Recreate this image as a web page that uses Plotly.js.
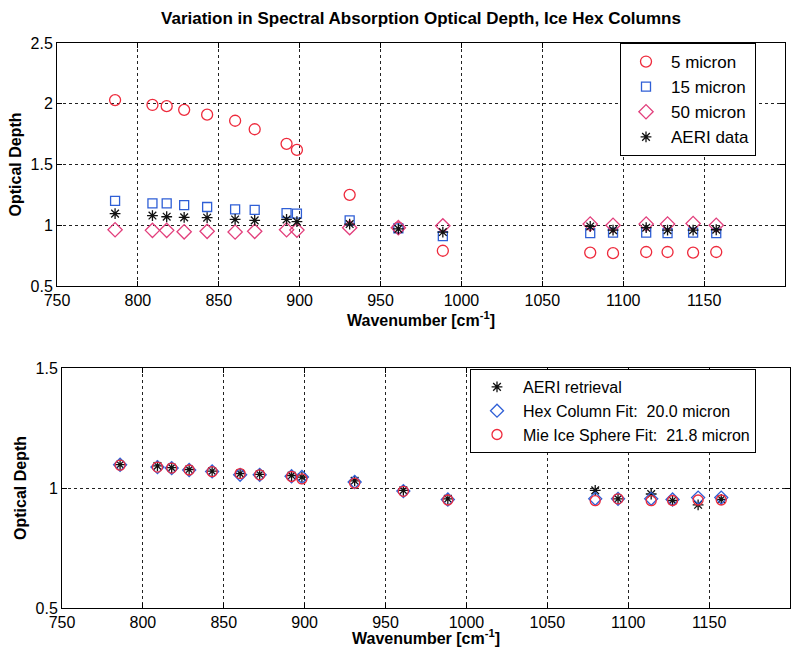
<!DOCTYPE html>
<html>
<head>
<meta charset="utf-8">
<script src="https://cdn.plot.ly/plotly-3.0.1.min.js"></script>
<style>
  html, body { margin: 0; padding: 0; background: #fff; }
  #chart { width: 796px; height: 647px; }
</style>
</head>
<body>
<div id="chart"></div>
<script>
// Microwindow centres (cm^-1)
const wavenumber = [785.9, 809.0, 817.8, 828.6, 842.8, 860.1, 872.2, 891.9, 898.3,
                    930.9, 961.0, 988.5, 1079.6, 1093.7, 1114.2, 1127.4, 1143.2, 1157.5];

// Upper panel: modelled hex-column optical depth for three sizes, plus AERI
const od5um  = [2.03, 1.99, 1.98, 1.95, 1.91, 1.86, 1.79, 1.67, 1.62,
                1.25, 0.98, 0.79, 0.775, 0.77, 0.78, 0.78, 0.775, 0.78];
const od15um = [1.20, 1.18, 1.18, 1.165, 1.15, 1.13, 1.127, 1.10, 1.096,
                1.04, 0.975, 0.91, 0.935, 0.94, 0.94, 0.935, 0.94, 0.935];
const od50um = [0.963, 0.958, 0.958, 0.946, 0.95, 0.944, 0.95, 0.963, 0.96,
                0.98, 0.98, 0.995, 1.01, 1.0, 1.01, 1.01, 1.014, 1.0];
const aeriData = [1.096, 1.08, 1.07, 1.065, 1.062, 1.048, 1.04, 1.048, 1.03,
                  1.01, 0.97, 0.944, 0.99, 0.96, 0.98, 0.96, 0.96, 0.963];

// Lower panel: AERI retrieval and best fits
const aeriRetrieval = [1.097, 1.092, 1.085, 1.077, 1.07, 1.06, 1.057, 1.052, 1.045,
                       1.03, 0.99, 0.955, 0.99, 0.955, 0.975, 0.948, 0.93, 0.953];
const hexColumnFit  = [1.097, 1.087, 1.083, 1.075, 1.069, 1.055, 1.055, 1.049, 1.046,
                       1.025, 0.987, 0.952, 0.955, 0.955, 0.955, 0.952, 0.96, 0.96];
const mieSphereFit  = [1.095, 1.087, 1.083, 1.075, 1.068, 1.06, 1.055, 1.048, 1.038,
                       1.02, 0.986, 0.95, 0.947, 0.955, 0.947, 0.948, 0.95, 0.95];

const xTicks = [750, 800, 850, 900, 950, 1000, 1050, 1100, 1150, 1200];
const yTicksTop = [0.5, 1, 1.5, 2, 2.5];
const yTicksBottom = [0.5, 1, 1.5];

const RED = '#ee2a3c', BLUE = '#2f5fd6', PINK = '#e23f7c', BLK = '#111';
const FAMILY = 'Liberation Sans, Arial, sans-serif';

function pts(y, xa, ya, name, symbol, color, size, legend) {
  return {
    type: 'scatter', mode: 'markers', x: wavenumber, y: y,
    xaxis: xa, yaxis: ya, name: name, legend: legend,
    marker: { symbol: symbol, size: size, color: color,
              line: { color: color, width: 1.3 } },
    hoverinfo: 'x+y'
  };
}

const traces = [
  pts(od5um,  'x', 'y', '5 micron',  'circle-open',  RED,  11, 'legend'),
  pts(od15um, 'x', 'y', '15 micron', 'square-open',  BLUE, 9,  'legend'),
  pts(od50um, 'x', 'y', '50 micron', 'diamond-open', PINK, 11, 'legend'),
  pts(aeriData, 'x', 'y', 'AERI data', 'asterisk-open', BLK, 9, 'legend'),
  pts(aeriRetrieval, 'x2', 'y2', 'AERI retrieval', 'asterisk-open', BLK, 9, 'legend2'),
  pts(hexColumnFit, 'x2', 'y2', 'Hex Column Fit:  20.0 micron', 'diamond-open', BLUE, 10, 'legend2'),
  pts(mieSphereFit, 'x2', 'y2', 'Mie Ice Sphere Fit:  21.8 micron', 'circle-open', RED, 10, 'legend2')
];

const W = 796, H = 647;
const tickFont = { family: FAMILY, size: 16, color: '#000' };
const labelFont = { family: FAMILY, size: 16, color: '#000' };

function xAxis(domain, anchor) {
  return {
    domain: domain, anchor: anchor, range: [750, 1200],
    tickvals: xTicks, ticktext: xTicks.map(String),
    ticks: 'inside', ticklen: 5, tickcolor: '#000', mirror: 'ticks',
    showline: true, linecolor: '#000', linewidth: 1,
    showgrid: true, gridcolor: '#222', griddash: 'dot', gridwidth: 1,
    zeroline: false, tickfont: tickFont,
    title: { text: '<b>Wavenumber [cm<sup>-1</sup>]</b>', font: labelFont, standoff: 1 }
  };
}
function yAxis(domain, anchor, range, ticks) {
  return {
    domain: domain, anchor: anchor, range: range,
    tickvals: ticks, ticktext: ticks.map(String),
    ticks: 'inside', ticklen: 5, tickcolor: '#000', mirror: 'ticks',
    showline: true, linecolor: '#000', linewidth: 1,
    showgrid: true, gridcolor: '#222', griddash: 'dot', gridwidth: 1,
    zeroline: false, tickfont: tickFont,
    title: { text: '<b>Optical Depth</b>', font: labelFont, standoff: 4 }
  };
}

const layout = {
  width: W, height: H,
  margin: { l: 0, r: 0, t: 0, b: 0 },
  paper_bgcolor: '#fff', plot_bgcolor: '#fff',
  showlegend: true,
  title: {
    text: '<b>Variation in Spectral Absorption Optical Depth, Ice Hex Columns</b>',
    font: { family: FAMILY, size: 17, color: '#000' },
    x: 421 / W, xanchor: 'center', y: 1 - 18 / H, yanchor: 'middle'
  },
  xaxis:  xAxis([57 / W, 785 / W], 'y'),
  yaxis:  yAxis([1 - 286 / H, 1 - 43 / H], 'x', [0.5, 2.5], yTicksTop),
  xaxis2: xAxis([62 / W, 790 / W], 'y2'),
  yaxis2: yAxis([1 - 608 / H, 1 - 368 / H], 'x2', [0.5, 1.5], yTicksBottom),
  legend: {
    x: 620 / W, xanchor: 'left', y: 1 - 43 / H, yanchor: 'top',
    bgcolor: '#fff', bordercolor: '#000', borderwidth: 1,
    font: { family: FAMILY, size: 17, color: '#000' },
    itemwidth: 40
  },
  legend2: {
    x: 470 / W, xanchor: 'left', y: 1 - 369 / H, yanchor: 'top',
    bgcolor: '#fff', bordercolor: '#000', borderwidth: 1,
    font: { family: FAMILY, size: 16, color: '#000' },
    itemwidth: 42
  }
};

Plotly.newPlot('chart', traces, layout, { displayModeBar: false, staticPlot: true });
</script>
</body>
</html>
